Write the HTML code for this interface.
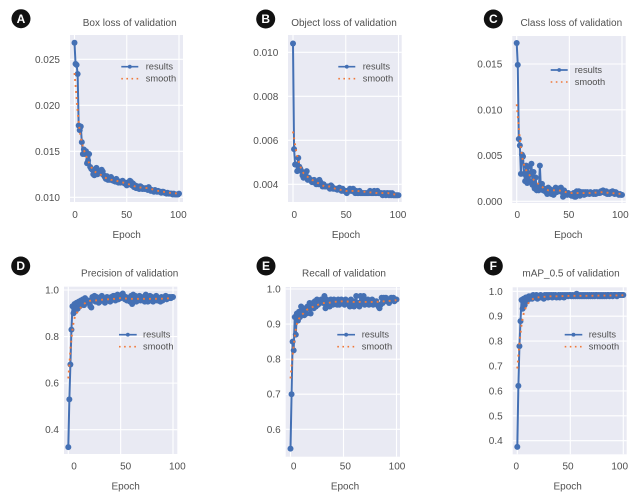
<!DOCTYPE html>
<html>
<head>
<meta charset="utf-8">
<style>
html,body{margin:0;padding:0;background:#fff;}
svg{display:block;filter:blur(0.3px);}
text{font-family:"Liberation Sans",sans-serif;fill:#505050;}
</style>
</head>
<body>
<svg id="figure" xmlns="http://www.w3.org/2000/svg" width="643" height="499" viewBox="0 0 643 499"></svg>
<script>
const resultsBox=[.0268,.0245,.0244,.0234,.0178,.0173,.0177,.0160,.0147,.0152,.0147,.0150,.0137,.0140,.0147,.0133,.0131,.0130,.0125,.0124,.0127,.0132,.0125,.0128,.0127,.0126,.0130,.0128,.0124,.0122,.0120,.0123,.0119,.0120,.0119,.0122,.0119,.0118,.0118,.0117,.0120,.0118,.0116,.0117,.0116,.0117,.0118,.0116,.0115,.0116,.0113,.0115,.0114,.0118,.0117,.0113,.0115,.0111,.0113,.0110,.0112,.0110,.0109,.0112,.0111,.0109,.0110,.0109,.0110,.0109,.0108,.0111,.0109,.0107,.0108,.0107,.0106,.0108,.0107,.0106,.0107,.0106,.0106,.0105,.0106,.0106,.0105,.0105,.0104,.0105,.0104,.0104,.0104,.0104,.0103,.0104,.0103,.0103,.0103,.0103,.0104];
const resultsObject=[.0104,.0056,.0049,.0049,.0046,.0052,.0048,.0047,.0046,.0044,.0043,.0044,.0045,.0046,.0042,.0043,.0042,.0042,.0041,.0041,.0042,.0041,.0040,.0041,.0040,.0042,.0041,.0040,.0039,.0040,.0039,.0039,.0039,.0039,.0039,.0038,.00395,.0039,.0038,.0038,.0038,.0038,.00375,.0038,.00385,.0038,.0037,.0038,.0037,.0037,.0037,.0036,.0037,.0037,.0038,.0037,.0037,.0038,.0037,.0036,.0037,.0036,.0036,.0037,.0036,.0036,.0036,.0036,.0036,.0036,.0036,.0036,.0036,.0037,.0036,.0036,.0036,.0037,.0036,.0036,.0037,.0036,.0036,.0036,.0036,.0035,.0036,.0036,.0035,.0036,.0036,.0035,.0036,.0035,.0036,.0035,.0035,.0035,.0035,.0035,.0035];
const resultsClass=[.0173,.0149,.0068,.0061,.0030,.0051,.0049,.0030,.0022,.0039,.0020,.0038,.0022,.0030,.0041,.0018,.0032,.0014,.0026,.0012,.0016,.0012,.0039,.0014,.0019,.0012,.0014,.0011,.0010,.0008,.0015,.0009,.0013,.0008,.0012,.0007,.0009,.0015,.0010,.0012,.0014,.0011,.0015,.0010,.0005,.0012,.0007,.0009,.0007,.0009,.0008,.0007,.0006,.0006,.0009,.0005,.0005,.0011,.0007,.0011,.0006,.0010,.0008,.0010,.0007,.0010,.0008,.0010,.0009,.0008,.0010,.0009,.0009,.0008,.0010,.0008,.0010,.0009,.0009,.0009,.0011,.0010,.0012,.0010,.0009,.0011,.0008,.0009,.0008,.0010,.0009,.0011,.0010,.0008,.0010,.0009,.0008,.0007,.0008,.0007,.0007];
const resultsPrecision=[.325,.53,.68,.83,.93,.90,.94,.91,.945,.92,.95,.93,.955,.94,.96,.935,.965,.95,.945,.955,.945,.93,.925,.97,.96,.975,.95,.97,.965,.945,.95,.97,.975,.96,.955,.945,.965,.97,.955,.965,.95,.97,.96,.975,.975,.955,.97,.98,.96,.975,.965,.98,.985,.975,.96,.97,.955,.965,.96,.95,.975,.94,.98,.965,.975,.95,.97,.96,.975,.955,.97,.96,.965,.95,.98,.96,.95,.97,.975,.955,.97,.95,.965,.96,.975,.955,.96,.965,.95,.97,.955,.965,.97,.975,.96,.97,.965,.97,.965,.97,.97];
const resultsRecall=[.545,.70,.85,.825,.92,.87,.93,.91,.935,.92,.95,.935,.945,.925,.94,.93,.95,.945,.96,.93,.955,.96,.945,.965,.95,.97,.955,.965,.96,.97,.965,.96,.98,.945,.97,.955,.965,.95,.97,.96,.955,.97,.965,.96,.955,.97,.955,.965,.97,.96,.965,.955,.97,.96,.965,.96,.95,.97,.955,.965,.95,.96,.98,.955,.96,.95,.98,.965,.96,.98,.955,.965,.96,.97,.955,.96,.965,.97,.955,.965,.96,.965,.955,.95,.945,.955,.975,.96,.975,.97,.975,.965,.97,.96,.965,.975,.97,.975,.965,.97,.97];
const resultsMap=[.375,.62,.78,.88,.965,.93,.97,.945,.975,.96,.975,.98,.97,.98,.97,.985,.975,.98,.985,.97,.98,.975,.985,.975,.98,.97,.985,.98,.985,.975,.985,.98,.985,.975,.985,.98,.985,.975,.98,.985,.975,.985,.98,.985,.975,.985,.98,.985,.98,.985,.985,.98,.985,.98,.985,.98,.99,.98,.985,.98,.985,.98,.985,.98,.985,.98,.985,.98,.985,.98,.985,.98,.985,.98,.985,.985,.98,.985,.98,.985,.98,.985,.98,.985,.98,.985,.985,.98,.985,.985,.98,.985,.985,.985,.98,.985,.985,.985,.985,.985,.985];
const smoothEpochs=[0,1,2,3,4,5,6,8,10,12,15,18,22,26,30,35,40,50,60,70,80,90,100];
const smoothBox=[.0235,.0222,.0208,.0194,.0182,.0172,.0165,.0155,.0148,.0142,.0135,.0129,.0126,.0124,.0121,.0119,.0118,.0115,.0111,.0110,.0107,.0105,.0104];
const smoothObject=[.0064,.0061,.0058,.0055,.0053,.0051,.0049,.0047,.0045,.0044,.0043,.0042,.0041,.0040,.0039,.0039,.0038,.0037,.0037,.00365,.0036,.0036,.0035];
const smoothClass=[.0106,.0093,.0080,.0068,.0058,.0050,.0044,.0036,.0032,.0029,.0025,.0021,.0018,.0014,.0012,.0012,.0012,.0009,.0009,.0009,.0010,.0009,.0008];
const smoothPrecision=[.62,.68,.74,.79,.83,.86,.88,.90,.915,.925,.94,.95,.955,.955,.957,.96,.96,.965,.962,.962,.962,.963,.965];
const smoothRecall=[.745,.78,.81,.84,.865,.885,.90,.915,.925,.93,.94,.945,.95,.955,.96,.96,.963,.965,.963,.963,.963,.965,.968];
const smoothMap=[.69,.74,.79,.83,.865,.89,.91,.935,.95,.96,.97,.975,.977,.978,.98,.98,.98,.982,.982,.982,.983,.983,.984];
const ticksBoxY=[.025,.020,.015,.010];
const ticksObjectY=[.010,.008,.006,.004];
const ticksClassY=[.015,.010,.005,0];
const ticksPrecisionY=[1,.8,.6,.4];
const ticksRecallY=[1,.9,.8,.7,.6];
const ticksMapY=[1,.9,.8,.7,.6,.5,.4];
const ticksX=[0,50,100];

const panels=[
 {key:'box',badge:'A',badgeX:21,badgeY:18.7,title:'Box loss of validation',titleX:129.7,titleY:26,res:resultsBox,sm:smoothBox,yt:ticksBoxY,dec:3,
  box:[70,35,183,202],x0:74.5,x100:179,lx0:75,lx100:178.3,yA:[.025,59.3],yB:[.010,197.3],yLabelX:60,tickY:218,epochX:126.7,epochY:238,legX:[121.3,138.3,145.7],legY:[66.7,78.7]},
 {key:'object',badge:'B',badgeX:265.7,badgeY:19,title:'Object loss of validation',titleX:344,titleY:26,res:resultsObject,sm:smoothObject,yt:ticksObjectY,dec:3,
  box:[288,35,401.7,202],x0:293,x100:398.5,lx0:294.3,lx100:398,yA:[.010,52.3],yB:[.004,184.3],yLabelX:278.3,tickY:218,epochX:346,epochY:238,legX:[338.3,355.3,362.7],legY:[66.7,78.7]},
 {key:'class',badge:'C',badgeX:493.3,badgeY:19,title:'Class loss of validation',titleX:571.3,titleY:26,res:resultsClass,sm:smoothClass,yt:ticksClassY,dec:3,
  box:[512.3,36,625.7,203],x0:516.7,x100:622,lx0:517.3,lx100:620.3,yA:[.015,64],yB:[0,201.3],yLabelX:502.3,tickY:218,epochX:568.3,epochY:238,legX:[550.7,567.7,574.7],legY:[70,82]},
 {key:'precision',badge:'D',badgeX:20.7,badgeY:266,title:'Precision of validation',titleX:129.7,titleY:276.5,res:resultsPrecision,sm:smoothPrecision,yt:ticksPrecisionY,dec:1,
  box:[64,286.7,177.3,454],x0:68.3,x100:173,lx0:74,lx100:177.3,yA:[1,290],yB:[.4,429.7],yLabelX:59,tickY:469.5,epochX:125.7,epochY:489.5,legX:[119,136.7,143],legY:[334.7,346.7]},
 {key:'recall',badge:'E',badgeX:266,badgeY:266,title:'Recall of validation',titleX:344,titleY:276.5,res:resultsRecall,sm:smoothRecall,yt:ticksRecallY,dec:1,
  box:[285.7,287,400,456.7],x0:290.5,x100:396.5,lx0:293.7,lx100:397,yA:[1,289],yB:[.6,429.3],yLabelX:280.7,tickY:469.5,epochX:345,epochY:489.5,legX:[337.3,355,361.7],legY:[334.7,346.7]},
 {key:'map',badge:'F',badgeX:493.3,badgeY:266,title:'mAP_0.5 of validation',titleX:571,titleY:276.5,res:resultsMap,sm:smoothMap,yt:ticksMapY,dec:1,
  box:[512.7,287.3,626.7,454.3],x0:517.3,x100:623.3,lx0:516.3,lx100:619.7,yA:[1,291.3],yB:[.4,440.7],yLabelX:502.7,tickY:469.5,epochX:567.7,epochY:489.5,legX:[564.7,582.3,588.7],legY:[334.7,346.7]}
];

const svg=document.getElementById('figure');
const NS='http://www.w3.org/2000/svg';
function mk(parent,tag,attrs,txt){
  const e=document.createElementNS(NS,tag);
  for(const k in attrs){e.setAttribute(k,attrs[k]);}
  if(txt!==undefined){e.textContent=txt;}
  parent.appendChild(e);
  return e;
}
const BLUE='#4470b4',ORANGE='#f0793a';

panels.forEach(p=>{
  const xs=v=>p.x0+(p.x100-p.x0)*v/100;
  const lxs=v=>p.lx0+(p.lx100-p.lx0)*v/100;
  const ys=v=>p.yA[1]+(p.yB[1]-p.yA[1])*(v-p.yA[0])/(p.yB[0]-p.yA[0]);
  const [l,t,r,b]=p.box;

  const g=mk(svg,'g',{});
  
  

  const badge=mk(g,'circle',{cx:p.badgeX,cy:p.badgeY,r:9.5,fill:'#111'});
  
  
  const badgeText=mk(g,'text',{x:p.badgeX,y:p.badgeY+4.2,'text-anchor':'middle','font-size':12,'font-weight':'bold',style:'fill:#fff'},p.badge);
  
  

  const title=mk(g,'text',{x:p.titleX,y:p.titleY,'text-anchor':'middle','font-size':10},p.title);
  
  

  const bg=mk(g,'rect',{x:l,y:t,width:r-l,height:b-t,fill:'#e9eaf3'});
  
  

  ticksX.forEach(v=>{
    const gl=mk(g,'line',{x1:xs(v),x2:xs(v),y1:t,y2:b,stroke:'#fff','stroke-width':1.1});
    
    
    const tl=mk(g,'text',{x:lxs(v),y:p.tickY,'text-anchor':'middle','font-size':10},String(v));
    
    
  });
  p.yt.forEach(v=>{
    const gl=mk(g,'line',{x1:l,x2:r,y1:ys(v),y2:ys(v),stroke:'#fff','stroke-width':1.1});
    
    
    const tl=mk(g,'text',{x:p.yLabelX,y:ys(v)+3.5,'text-anchor':'end','font-size':10},v.toFixed(p.dec));
    
    
  });

  const axisTitle=mk(g,'text',{x:p.epochX,y:p.epochY,'text-anchor':'middle','font-size':10},'Epoch');
  
  

  const line=mk(g,'polyline',{points:p.res.map((v,i)=>xs(i)+','+ys(v)).join(' '),fill:'none',stroke:BLUE,'stroke-width':2,'stroke-linejoin':'round'});
  
  
  p.res.forEach((v,i)=>{
    const pt=mk(g,'circle',{cx:xs(i),cy:ys(v),r:3,fill:BLUE});
    
    
  });
  const sm=mk(g,'polyline',{points:p.sm.map((v,i)=>xs(smoothEpochs[i])+','+ys(v)).join(' '),fill:'none',stroke:ORANGE,'stroke-width':1.9,'stroke-dasharray':'1.9 4.1'});
  
  

  const [lx1,lx2,ltx]=p.legX;
  const [ly1,ly2]=p.legY;
  const legLine=mk(g,'line',{x1:lx1,x2:lx2,y1:ly1,y2:ly1,stroke:BLUE,'stroke-width':1.7});
  
  
  const legDot=mk(g,'circle',{cx:(lx1+lx2)/2,cy:ly1,r:1.9,fill:BLUE});
  
  
  const legText=mk(g,'text',{x:ltx,y:ly1+3,'font-size':9.3},'results');
  
  
  const legSm=mk(g,'line',{x1:lx1,x2:lx2,y1:ly2,y2:ly2,stroke:ORANGE,'stroke-width':1.6,'stroke-dasharray':'1.6 3.5'});
  
  
  const legSmText=mk(g,'text',{x:ltx,y:ly2+3,'font-size':9.3},'smooth');
  
  
});
</script>
</body>
</html>
